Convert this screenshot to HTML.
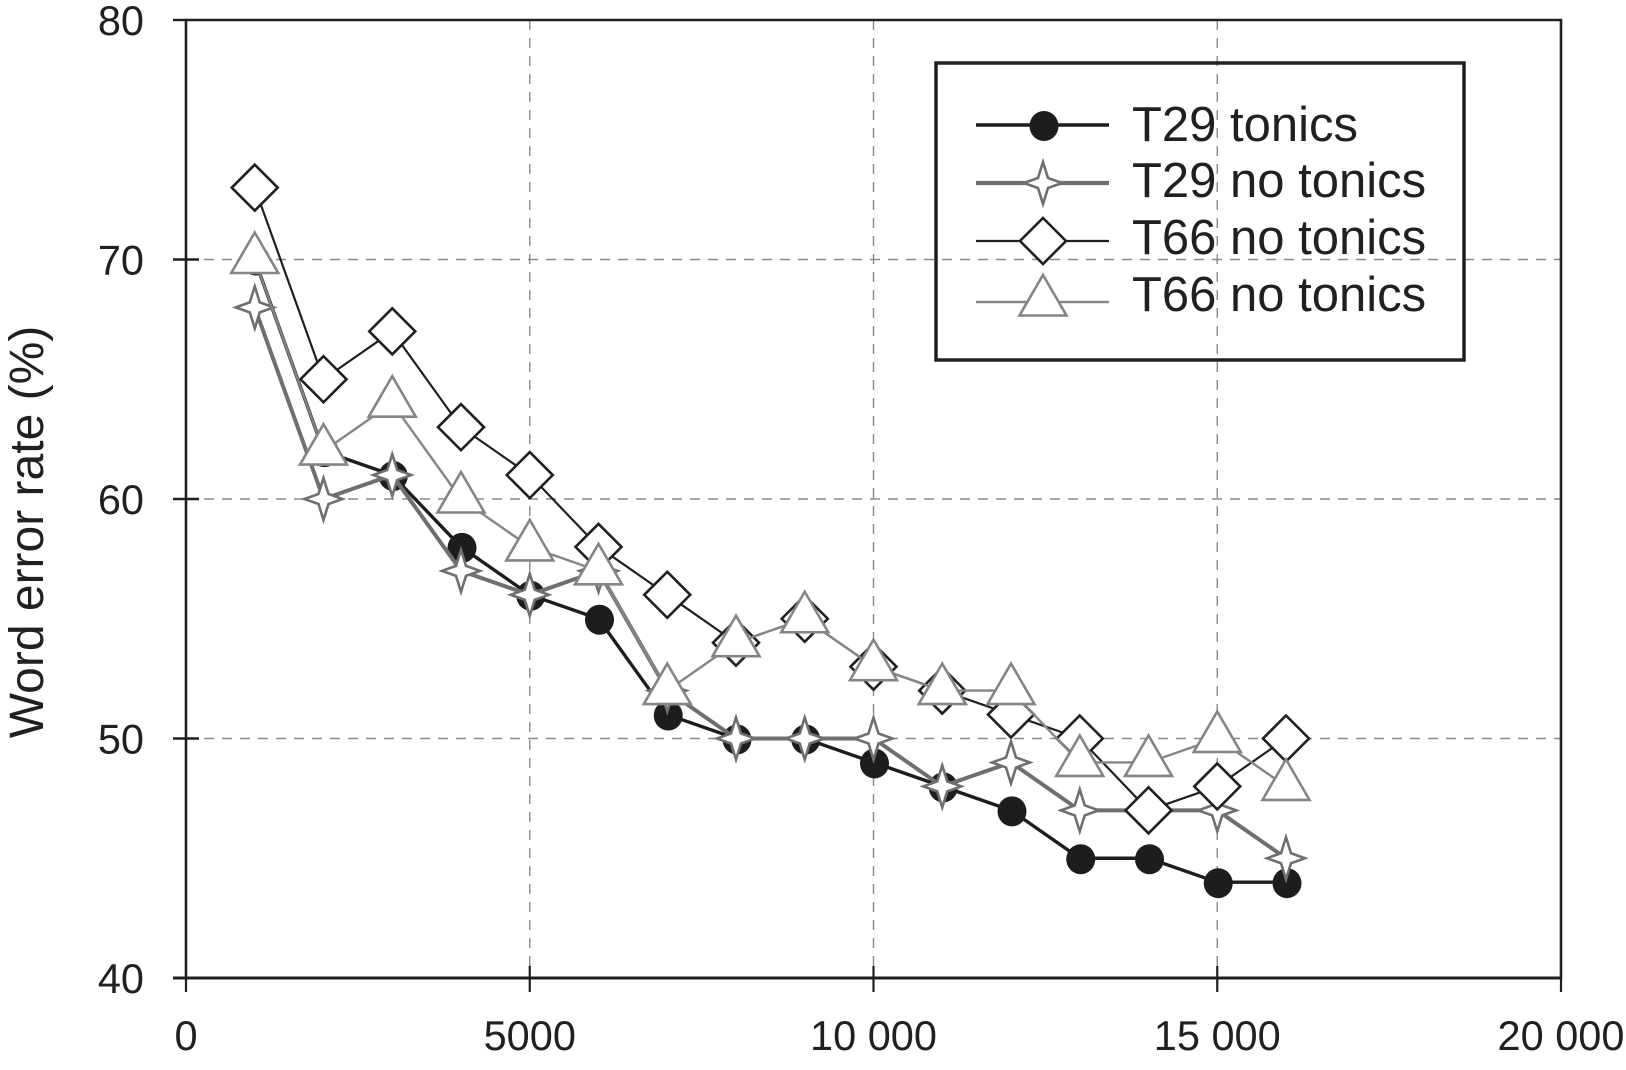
<!DOCTYPE html>
<html lang="en">
<head>
<meta charset="utf-8">
<title>Word error rate chart</title>
<style>
html,body{margin:0;padding:0;background:#fff;width:1626px;height:1070px;overflow:hidden}
svg{display:block}
text{font-family:"Liberation Sans",Arial,sans-serif;fill:#231f20}
</style>
</head>
<body>
<svg id="chart" xmlns="http://www.w3.org/2000/svg" width="1626" height="1070" viewBox="0 0 1626 1070">
  <rect x="0" y="0" width="1626" height="1070" fill="#fff"/>
  <g id="grid"></g>
  <g id="axes"></g>
  <g id="series"></g>
  <text transform="translate(43,532) rotate(-90)" text-anchor="middle" font-size="48">Word error rate (%)</text>
  <g id="legend">
    <rect x="936" y="63" width="528" height="297" fill="none" stroke="#231f20" stroke-width="3.5"/>
    <text x="1132" y="141" font-size="49">T29 tonics</text>
    <text x="1132" y="197" font-size="49">T29 no tonics</text>
    <text x="1132" y="254" font-size="49">T66 no tonics</text>
    <text x="1132" y="311" font-size="49">T66 no tonics</text>
  </g>
</svg>
<script>
const xValues = [1000, 2000, 3000, 4000, 5000, 6000, 7000, 8000, 9000, 10000, 11000, 12000, 13000, 14000, 15000, 16000];
const t29Tonics = [70, 62, 61, 58, 56, 55, 51, 50, 50, 49, 48, 47, 45, 45, 44, 44];
const t29NoTonics = [68, 60, 61, 57, 56, 57, 52, 50, 50, 50, 48, 49, 47, 47, 47, 45];
const t66NoTonicsDiamond = [73, 65, 67, 63, 61, 58, 56, 54, 55, 53, 52, 51, 50, 47, 48, 50];
const t66NoTonicsTriangle = [70, 62, 64, 60, 58, 57, 52, 54, 55, 53, 52, 52, 49, 49, 50, 48];
const xTicks = [0, 5000, 10000, 15000, 20000];
const xTickLabels = ['0', '5000', '10 000', '15 000', '20 000'];
const yTicks = [40, 50, 60, 70, 80];
const yTickLabels = ['40', '50', '60', '70', '80'];

const NS = 'http://www.w3.org/2000/svg';
const plot = { left: 186, right: 1561, top: 20, bottom: 978 };
const xDomain = [0, 20000];
const yDomain = [40, 80];
const INK = '#231f20';

function xScale(v) {
  return plot.left + (v - xDomain[0]) / (xDomain[1] - xDomain[0]) * (plot.right - plot.left);
}
function yScale(v) {
  return plot.bottom - (v - yDomain[0]) / (yDomain[1] - yDomain[0]) * (plot.bottom - plot.top);
}
function make(tag, parent, attrs) {
  const el = document.createElementNS(NS, tag);
  for (const k in attrs) el.setAttribute(k, attrs[k]);
  parent.appendChild(el);
  return el;
}
function drawLine(parent, name, x1, y1, x2, y2, stroke, width, dash) {
  const el = make('line', parent, { x1: x1, y1: y1, x2: x2, y2: y2, stroke: stroke, 'stroke-width': width });
  if (dash) el.setAttribute('stroke-dasharray', dash);
  
  
  return el;
}
function drawMarker(parent, name, kind, cx, cy) {
  let el;
  if (kind === 'circle') {
    el = make('ellipse', parent, { cx: cx + 1, cy: cy + 1, rx: 14.5, ry: 15, fill: '#1f1c1d' });
  } else if (kind === 'star') {
    const ax = 19, ay = 21, b = 5;
    const pts = [[0,-ay],[b,-b],[ax,0],[b,b],[0,ay],[-b,b],[-ax,0],[-b,-b]];
    el = make('polygon', parent, { points: pts.map(p => (cx + p[0]) + ',' + (cy + p[1])).join(' '), fill: '#fff', stroke: '#6f6f6f', 'stroke-width': 2.6 });
  } else if (kind === 'diamond') {
    const d = 23;
    el = make('polygon', parent, { points: cx + ',' + (cy - d) + ' ' + (cx + d) + ',' + cy + ' ' + cx + ',' + (cy + d) + ' ' + (cx - d) + ',' + cy, fill: '#fff', stroke: '#231f20', 'stroke-width': 2.6 });
  } else {
    el = make('polygon', parent, { points: cx + ',' + (cy - 27) + ' ' + (cx + 23.5) + ',' + (cy + 13.5) + ' ' + (cx - 23.5) + ',' + (cy + 13.5), fill: '#fff', stroke: '#858585', 'stroke-width': 2.6 });
  }
  
  
  return el;
}

const gridG = document.getElementById('grid');
const axesG = document.getElementById('axes');
const seriesG = document.getElementById('series');
const legendG = document.getElementById('legend');

xTicks.forEach(function (t, i) {
  if (t > xDomain[0] && t < xDomain[1]) {
    drawLine(gridG, 'vertical-gridline-' + t, xScale(t), plot.top, xScale(t), plot.bottom, '#8a8a8a', 1.4, '10 8');
  }
  drawLine(axesG, 'x-tick-' + t, xScale(t), plot.bottom - (t > xDomain[0] && t < xDomain[1] ? 12 : 0), xScale(t), plot.bottom + 14, INK, 2.2);
  const label = make('text', axesG, { x: xScale(t), y: plot.bottom + 72, 'text-anchor': 'middle', 'font-size': 41.5 });
  label.textContent = xTickLabels[i];
  
  
});
yTicks.forEach(function (t, i) {
  if (t > yDomain[0] && t < yDomain[1]) {
    drawLine(gridG, 'horizontal-gridline-' + t, plot.left, yScale(t), plot.right, yScale(t), '#8a8a8a', 1.4, '10 8');
  }
  drawLine(axesG, 'y-tick-' + t, plot.left - 13, yScale(t), plot.left + (t === 70 || t === 60 || t === 50 ? 13 : 0), yScale(t), INK, 2.4);
  const label = make('text', axesG, { x: 144, y: yScale(t) + 15, 'text-anchor': 'end', 'font-size': 41.5 });
  label.textContent = yTickLabels[i];
  
  
});
drawLine(axesG, 'top-frame-line', plot.left - 1, plot.top, plot.right + 1, plot.top, INK, 2.6);
drawLine(axesG, 'left-axis-line', plot.left, plot.top - 1, plot.left, plot.bottom + 1, INK, 2.6);
drawLine(axesG, 'right-frame-line', plot.right, plot.top - 1, plot.right, plot.bottom + 1, INK, 2.6);
drawLine(axesG, 'bottom-axis-line', plot.left - 13, plot.bottom, plot.right + 1, plot.bottom, INK, 3);

function drawSeries(name, values, kind, stroke, width) {
  const g = make('g', seriesG, {});
  
  
  const line = make('polyline', g, {
    points: values.map(function (v, i) { return xScale(xValues[i]) + ',' + yScale(v); }).join(' '),
    fill: 'none', stroke: stroke, 'stroke-width': width, 'stroke-linejoin': 'round'
  });
  
  
  values.forEach(function (v, i) {
    drawMarker(g, 'point-' + name + '-' + xValues[i], kind, xScale(xValues[i]), yScale(v));
  });
}
drawSeries('t29-tonics', t29Tonics, 'circle', '#1f1c1d', 3.4);
drawSeries('t29-no-tonics', t29NoTonics, 'star', '#6f6f6f', 4);
drawSeries('t66-no-tonics-diamond', t66NoTonicsDiamond, 'diamond', '#231f20', 2.2);
drawSeries('t66-no-tonics-triangle', t66NoTonicsTriangle, 'triangle', '#858585', 2.4);

function drawLegendKey(name, kind, y, stroke, width) {
  drawLine(legendG, 'legend-line-' + name, 976, y, 1109, y, stroke, width);
  drawMarker(legendG, 'legend-marker-' + name, kind, 1043, y);
}
drawLegendKey('t29-tonics', 'circle', 125, '#1f1c1d', 3.6);
drawLegendKey('t29-no-tonics', 'star', 183, '#6f6f6f', 4.2);
drawLegendKey('t66-no-tonics-diamond', 'diamond', 241, '#231f20', 2.2);
drawLegendKey('t66-no-tonics-triangle', 'triangle', 302, '#858585', 2.4);
</script>
</body>
</html>
